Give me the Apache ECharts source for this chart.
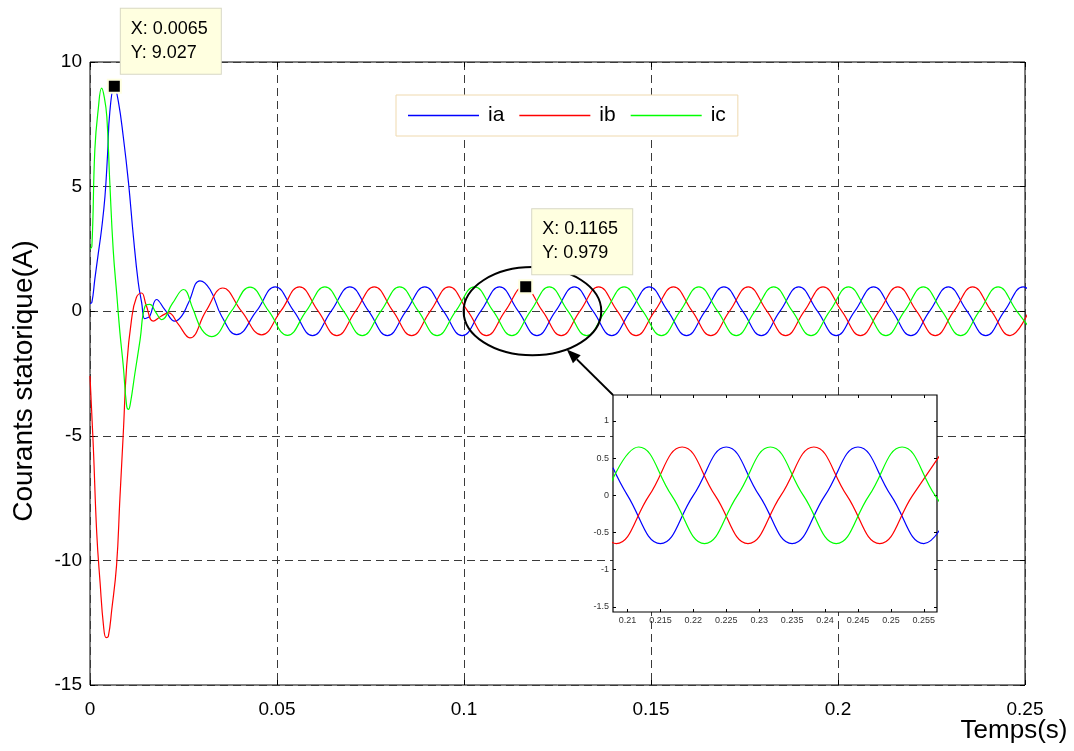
<!DOCTYPE html>
<html>
<head>
<meta charset="utf-8">
<title>Courants statoriques</title>
<script src="https://cdn.jsdelivr.net/npm/echarts@6/dist/echarts.min.js"></script>
<style>
  html, body { margin: 0; padding: 0; background: #fff; }
  #chart { width: 1074px; height: 751px; }
</style>
</head>
<body>
<div id="chart"></div>
<script>
// ---- Axis ticks -------------------------------------------------------
const xTicks = [0, 0.05, 0.1, 0.15, 0.2, 0.25];
const yTicks = [-15, -10, -5, 0, 5, 10];
const insetXTicks = [0.21, 0.215, 0.22, 0.225, 0.23, 0.235, 0.24, 0.245, 0.25, 0.255];
const insetYTicks = [-1.5, -1, -0.5, 0, 0.5, 1];
const insetXRange = [0.2078, 0.257];
const insetYRange = [-1.57, 1.35];

// ---- Stator currents [t (s), i (A)] ------------------------------------
const ia = [
  [0, 0.3], [0.0005, 0.35], [0.0013, 1.3], [0.0022, 2.3], [0.0031, 3.3], [0.004, 4.6],
  [0.0047, 6.3], [0.0053, 8.0], [0.0065, 9.027], [0.0076, 8.4], [0.0089, 7.0], [0.0103, 5.15],
  [0.0116, 3.0], [0.0129, 1.15], [0.0138, 0.35], [0.0146, -0.3], [0.0152, -0.27], [0.016, -0.2],
  [0.0178, 0.47], [0.02, 0.06], [0.0227, -0.4], [0.0245, -0.2], [0.0263, 0.33], [0.0294, 1.22],
  [0.0321, 0.87], [0.0352, -0.2], [0.0392, -0.94],
  [0.0445, 0], [0.0495, 0.98], [0.0545, 0], [0.0595, -0.98],
  [0.0645, 0], [0.0695, 0.98], [0.0745, 0], [0.0795, -0.98],
  [0.0845, 0], [0.0895, 0.98], [0.0945, 0], [0.0995, -0.98],
  [0.1045, 0], [0.1095, 0.98], [0.1145, 0], [0.1195, -0.98],
  [0.1245, 0], [0.1295, 0.98], [0.1345, 0], [0.1395, -0.98],
  [0.1445, 0], [0.1495, 0.98], [0.1545, 0], [0.1595, -0.98],
  [0.1645, 0], [0.1695, 0.98], [0.1745, 0], [0.1795, -0.98],
  [0.1845, 0], [0.1895, 0.98], [0.1945, 0], [0.1995, -0.98],
  [0.2045, 0], [0.2095, 0.98], [0.2145, 0], [0.2195, -0.98],
  [0.2245, 0], [0.2295, 0.98], [0.2345, 0], [0.2395, -0.98],
  [0.2445, 0], [0.2495, 0.98], [0.2545, 0]
];
const ib = [
  [0, -2.6], [0.0009, -5.5], [0.0018, -8.9], [0.0027, -10.9], [0.0036, -12.6], [0.0043, -13.1],
  [0.0049, -13.05], [0.0058, -12.0], [0.0071, -10.2], [0.008, -7.5], [0.0089, -4.9], [0.0098, -2.2],
  [0.0111, -0.34], [0.0124, 0.55], [0.0138, 0.73], [0.015, 0.25], [0.0169, -0.4], [0.019, -0.2],
  [0.021, -0.07], [0.0235, -0.5], [0.0267, -1.07], [0.031, 0], [0.0355, 0.93], [0.0405, 0],
  [0.0459, -0.95],
  [0.051, 0], [0.056, 0.98], [0.061, 0], [0.066, -0.98],
  [0.071, 0], [0.076, 0.98], [0.081, 0], [0.086, -0.98],
  [0.091, 0], [0.096, 0.98], [0.101, 0], [0.106, -0.98],
  [0.111, 0], [0.116, 0.98], [0.121, 0], [0.126, -0.98],
  [0.131, 0], [0.136, 0.98], [0.141, 0], [0.146, -0.98],
  [0.151, 0], [0.156, 0.98], [0.161, 0], [0.166, -0.98],
  [0.171, 0], [0.176, 0.98], [0.181, 0], [0.186, -0.98],
  [0.191, 0], [0.196, 0.98], [0.201, 0], [0.206, -0.98],
  [0.211, 0], [0.216, 0.98], [0.221, 0], [0.226, -0.98],
  [0.231, 0], [0.236, 0.98], [0.241, 0], [0.246, -0.98],
  [0.251, 0]
];
const ic = [
  [0, 2.5], [0.0005, 2.6], [0.0013, 6.5], [0.0022, 8.1], [0.0031, 8.95], [0.0038, 8.6],
  [0.0045, 7.8], [0.0053, 5.15], [0.0062, 2.47], [0.0072, 0.6], [0.008, -0.86], [0.0089, -2.2],
  [0.0098, -3.8], [0.0103, -3.94], [0.0108, -3.7], [0.012, -2.5], [0.0134, -1.14], [0.0147, 0.2],
  [0.016, 0.27], [0.0176, -0.05], [0.0192, -0.34], [0.022, 0.3], [0.025, 0.87], [0.0275, 0.1],
  [0.0299, -0.74], [0.0325, -1.02], [0.0378, 0], [0.0428, 0.97], [0.0478, 0], [0.0528, -0.97],
  [0.0578, 0], [0.0628, 0.98], [0.0678, 0], [0.0728, -0.98],
  [0.0778, 0], [0.0828, 0.98], [0.0878, 0], [0.0928, -0.98],
  [0.0978, 0], [0.1028, 0.98], [0.1078, 0], [0.1128, -0.98],
  [0.1178, 0], [0.1228, 0.98], [0.1278, 0], [0.1328, -0.98],
  [0.1378, 0], [0.1428, 0.98], [0.1478, 0], [0.1528, -0.98],
  [0.1578, 0], [0.1628, 0.98], [0.1678, 0], [0.1728, -0.98],
  [0.1778, 0], [0.1828, 0.98], [0.1878, 0], [0.1928, -0.98],
  [0.1978, 0], [0.2028, 0.98], [0.2078, 0], [0.2128, -0.98],
  [0.2178, 0], [0.2228, 0.98], [0.2278, 0], [0.2328, -0.98],
  [0.2378, 0], [0.2428, 0.98], [0.2478, 0], [0.2528, -0.98]
];

// ---- Steady-state detail (inset) ---------------------------------------
const insetIa = [
  [0.2078, 0.37], [0.21, 0], [0.215, -0.65], [0.22, 0], [0.225, 0.65], [0.23, 0],
  [0.235, -0.65], [0.24, 0], [0.245, 0.65], [0.25, 0], [0.255, -0.65], [0.26, 0]
];
const insetIb = [
  [0.2033, 0], [0.2083, -0.65], [0.2133, 0], [0.2183, 0.65], [0.2233, 0], [0.2283, -0.65],
  [0.2333, 0], [0.2383, 0.65], [0.2433, 0], [0.2483, -0.65], [0.2533, 0], [0.2583, 0.65]
];
const insetIc = [
  [0.2067, 0], [0.2117, 0.65], [0.2167, 0], [0.2217, -0.65], [0.2267, 0], [0.2317, 0.65],
  [0.2367, 0], [0.2417, -0.65], [0.2467, 0], [0.2517, 0.65], [0.2567, 0], [0.2617, -0.65]
];

// ---- Data tips and zoom annotation -------------------------------------
const dataTips = [[0.0065, 9.027], [0.1165, 0.979]];
const zoomCenter = [0.1183, 0];
const zoomHalfSpan = [0.0184, 1.77];

const FONT = '"Liberation Sans", Arial, Helvetica, sans-serif';
const BLUE = '#0000FF', RED = '#FF0000', GREEN = '#00FF00';

const chart = echarts.init(document.getElementById('chart'), null, { renderer: 'canvas' });

function curve(name, data, color, axisIdx, z) {
  return {
    type: 'line', name: name, data: data,
    xAxisIndex: axisIdx, yAxisIndex: axisIdx,
    showSymbol: false, symbol: 'none', smooth: 0.45, clip: true,
    color: color, itemStyle: { color: color }, lineStyle: { color: color, width: 1.2 },
    emphasis: { disabled: true }, silent: true, z: z
  };
}

function mirrorAxis(gridIndex, position, min, max, extra) {
  return Object.assign({
    gridIndex: gridIndex, type: 'value', position: position, min: min, max: max,
    axisLine: { show: false, onZero: false },
    axisLabel: { show: false },
    splitLine: { show: false }
  }, extra);
}

function legendItem(name, color) {
  return { name: name, icon: 'rect', itemStyle: { color: color, borderWidth: 0, opacity: 1 } };
}

const mainTick = { inside: true, length: 5, lineStyle: { color: '#000', width: 1 } };
const insetTick = { inside: true, length: 3, lineStyle: { color: '#000', width: 1 } };

const option = {
  backgroundColor: '#fff',
  animation: false,
  textStyle: { fontFamily: FONT },
  grid: [
    { left: 90, top: 62, width: 935, height: 623, show: true,
      borderColor: '#000', borderWidth: 1, backgroundColor: 'transparent' },
    { left: 613, top: 395, width: 324, height: 217, show: true,
      borderColor: '#000', borderWidth: 1.2, backgroundColor: '#fff', z: 5 }
  ],
  xAxis: [
    { gridIndex: 0, type: 'value', min: xTicks[0], max: xTicks[xTicks.length - 1], interval: 0.05,
      axisLine: { show: false, onZero: false },
      axisTick: mainTick,
      axisLabel: { fontSize: 19, color: '#000', margin: 15, fontFamily: FONT },
      splitLine: { show: true, lineStyle: { color: '#3a3a3a', width: 1, type: [8, 5] } } },
    mirrorAxis(0, 'top', xTicks[0], xTicks[xTicks.length - 1], { interval: 0.05, axisTick: mainTick }),
    { gridIndex: 1, type: 'value', min: insetXRange[0], max: insetXRange[1], z: 6,
      axisLine: { show: false, onZero: false },
      axisTick: Object.assign({}, insetTick, { customValues: insetXTicks }),
      axisLabel: { customValues: insetXTicks, fontSize: 9, color: '#333', margin: 4, fontFamily: FONT },
      splitLine: { show: false } },
    mirrorAxis(1, 'top', insetXRange[0], insetXRange[1],
      { z: 6, axisTick: Object.assign({}, insetTick, { customValues: insetXTicks }) })
  ],
  yAxis: [
    { gridIndex: 0, type: 'value', min: yTicks[0], max: yTicks[yTicks.length - 1], interval: 5,
      axisLine: { show: false, onZero: false },
      axisTick: mainTick,
      axisLabel: { fontSize: 19, color: '#000', margin: 8, fontFamily: FONT },
      splitLine: { show: true, lineStyle: { color: '#3a3a3a', width: 1, type: [8, 5] } } },
    mirrorAxis(0, 'right', yTicks[0], yTicks[yTicks.length - 1], { interval: 5, axisTick: mainTick }),
    { gridIndex: 1, type: 'value', min: insetYRange[0], max: insetYRange[1], z: 6,
      axisLine: { show: false, onZero: false },
      axisTick: Object.assign({}, insetTick, { customValues: insetYTicks }),
      axisLabel: { customValues: insetYTicks, fontSize: 9, color: '#333', margin: 4, fontFamily: FONT },
      splitLine: { show: false } },
    mirrorAxis(1, 'right', insetYRange[0], insetYRange[1],
      { z: 6, axisTick: Object.assign({}, insetTick, { customValues: insetYTicks }) })
  ],
  legend: {
    data: [legendItem('ia', BLUE), legendItem('ib', RED), legendItem('ic', GREEN)],
    left: 396, top: 95, orient: 'horizontal',
    icon: 'rect', itemWidth: 71, itemHeight: 1.3, itemGap: 15,
    padding: [10, 12, 10, 12], backgroundColor: '#fff',
    borderColor: '#EFD9AE', borderWidth: 1, borderRadius: 0,
    selectedMode: false, z: 10,
    textStyle: { fontSize: 21, color: '#000', fontFamily: FONT, padding: [0, 0, 0, 4] }
  },
  series: [
    curve('ia', ia, BLUE, 0, 2),
    curve('ib', ib, RED, 0, 2),
    curve('ic', ic, GREEN, 0, 2),
    curve('ia détail', insetIa, BLUE, 2, 7),
    curve('ib détail', insetIb, RED, 2, 7),
    curve('ic détail', insetIc, GREEN, 2, 7),
    {
      type: 'scatter', xAxisIndex: 0, yAxisIndex: 0, data: dataTips,
      symbol: 'rect', symbolSize: 13, silent: true, z: 12,
      itemStyle: { color: '#000', borderColor: '#FFFFE0', borderWidth: 2, opacity: 1 },
      label: {
        show: true, position: [14, -70],
        formatter: p => 'X: ' + p.value[0] + '\nY: ' + p.value[1],
        fontSize: 18, lineHeight: 24, color: '#000', fontFamily: FONT,
        backgroundColor: '#FFFFE0', borderColor: '#D8D8C4', borderWidth: 1,
        padding: [8, 10, 9, 10], width: 80, opacity: 1
      }
    }
  ]
};

chart.setOption(option);

// ---- Annotations: titles, zoom ellipse and arrow ------------------------
const c = chart.convertToPixel({ gridIndex: 0 }, zoomCenter);
const e = chart.convertToPixel({ gridIndex: 0 },
  [zoomCenter[0] + zoomHalfSpan[0], zoomCenter[1] + zoomHalfSpan[1]]);
const rx = e[0] - c[0], ry = c[1] - e[1];
const corner = chart.convertToPixel({ gridIndex: 1 }, [insetXRange[0], insetYRange[1]]);
const ang = Math.PI / 3;
const tip = [c[0] + rx * Math.cos(ang), c[1] + ry * Math.sin(ang)];
const dx = tip[0] - corner[0], dy = tip[1] - corner[1];
const len = Math.hypot(dx, dy), ux = dx / len, uy = dy / len;
const headL = 14, headW = 5.5;
const base = [tip[0] - ux * headL, tip[1] - uy * headL];
const head = [
  tip,
  [base[0] - uy * headW, base[1] + ux * headW],
  [base[0] + uy * headW, base[1] - ux * headW]
];

chart.setOption({
  graphic: [
    { type: 'ellipse', z: 8, silent: true,
      shape: { cx: c[0], cy: c[1], rx: rx, ry: ry },
      style: { fill: 'none', stroke: '#000', lineWidth: 2 } },
    { type: 'line', z: 9, silent: true,
      shape: { x1: corner[0], y1: corner[1], x2: base[0], y2: base[1] },
      style: { stroke: '#000', lineWidth: 1.8 } },
    { type: 'polygon', z: 9, silent: true,
      shape: { points: head }, style: { fill: '#000' } },
    { type: 'text', z: 10, silent: true, x: 24, y: 381, rotation: Math.PI / 2,
      style: { text: 'Courants statorique(A)', font: '28px ' + FONT, fill: '#000',
               align: 'center', verticalAlign: 'middle' } },
    { type: 'text', z: 10, silent: true, x: 1014, y: 731,
      style: { text: 'Temps(s)', font: '26px ' + FONT, fill: '#000',
               align: 'center', verticalAlign: 'middle' } }
  ]
});
</script>
</body>
</html>
